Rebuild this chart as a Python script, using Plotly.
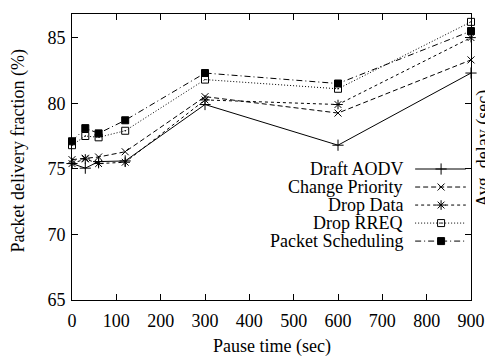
import plotly.graph_objects as go

pause_time = [0, 30, 60, 120, 300, 600, 900]
draft_aodv = [75.4, 75.05, 75.55, 75.6, 79.9, 76.8, 82.3]
change_priority = [75.7, 75.8, 75.9, 76.3, 80.5, 79.25, 83.3]
drop_data = [75.4, 75.75, 75.4, 75.5, 80.25, 79.9, 85.0]
drop_rreq = [76.8, 77.5, 77.4, 77.9, 81.8, 81.1, 86.2]
packet_sched = [77.1, 78.1, 77.7, 78.7, 82.3, 81.5, 85.5]

series_names = ["Draft AODV", "Change Priority", "Drop Data", "Drop RREQ", "Packet Scheduling"]
series_values = [draft_aodv, change_priority, drop_data, drop_rreq, packet_sched]
x_ticks = [0, 100, 200, 300, 400, 500, 600, 700, 800, 900]
y_ticks = [65, 70, 75, 80, 85]

styles = [
    dict(dash="solid", symbol="cross-thin-open", size=8),
    dict(dash="5px,3px", symbol="x-thin-open", size=7),
    dict(dash="3px,3px", symbol="asterisk-open", size=8),
    dict(dash="1px,2px", symbol="square-open-dot", size=7),
    dict(dash="6px,3px,1px,3px", symbol="square", size=7),
]

FONT = "Liberation Serif"
FS = 18
fig = go.Figure()

for name, vals, st in zip(series_names, series_values, styles):
    fig.add_trace(go.Scatter(
        x=pause_time, y=vals, mode="lines+markers", name=name, showlegend=False,
        line=dict(color="black", width=1, dash=st["dash"]),
        marker=dict(symbol=st["symbol"], size=st["size"], color="black",
                    line=dict(color="black", width=1)),
        cliponaxis=False,
    ))

# gnuplot-style legend (text right, sample on the right) on an overlay axis
leg_rows = [0.458, 0.395, 0.332, 0.269, 0.206]
for name, st, ry in zip(series_names, styles, leg_rows):
    fig.add_trace(go.Scatter(
        x=[0.860, 0.987], y=[ry, ry], xaxis="x2", yaxis="y2", mode="lines",
        line=dict(color="black", width=1, dash=st["dash"]), showlegend=False,
        hoverinfo="skip"))
    fig.add_trace(go.Scatter(
        x=[0.925], y=[ry], xaxis="x2", yaxis="y2", mode="markers",
        marker=dict(symbol=st["symbol"], size=st["size"], color="black",
                    line=dict(color="black", width=1)),
        showlegend=False, hoverinfo="skip"))
    fig.add_annotation(x=0.835, y=ry, xref="x2", yref="y2", text=name,
                       showarrow=False, xanchor="right", yanchor="middle",
                       font=dict(family=FONT, size=FS, color="black"))

axis_common = dict(showgrid=False, zeroline=False, showline=True, linecolor="black",
                   linewidth=1, mirror="ticks", ticks="inside", ticklen=6,
                   tickcolor="black", automargin=False,
                   tickfont=dict(family=FONT, size=FS, color="black"))

fig.update_layout(
    width=485, height=362,
    margin=dict(l=72, r=14, t=14, b=62),
    paper_bgcolor="white", plot_bgcolor="white",
    xaxis=dict(range=[0, 900], tickvals=x_ticks, ticklabelstandoff=4, **axis_common),
    yaxis=dict(range=[65, 86.8], tickvals=y_ticks, ticklabelstandoff=2, **axis_common),
    xaxis2=dict(range=[0, 1], overlaying="x", visible=False, automargin=False),
    yaxis2=dict(range=[0, 1], overlaying="y", visible=False, automargin=False),
    font=dict(family=FONT, size=FS, color="black"),
)

fig.add_annotation(x=0.5, y=-0.164, xref="paper", yref="paper", yanchor="middle",
                   text="Pause time (sec)", showarrow=False,
                   font=dict(family=FONT, size=FS, color="black"))
fig.add_annotation(x=-0.135, y=0.52, xref="paper", yref="paper", xanchor="center",
                   text="Packet delivery fraction (%)", textangle=-90, showarrow=False,
                   font=dict(family=FONT, size=FS, color="black"))
# clipped label of the neighbouring chart at the right edge
fig.add_annotation(x=1.0, y=0.53, xref="paper", yref="paper", xanchor="left",
                   text="Avg. delay (sec)", textangle=-90, showarrow=False,
                   font=dict(family=FONT, size=FS, color="black"))

fig.write_html("out.html", config={"displayModeBar": False},
               post_script="document.body.style.margin='0';")
